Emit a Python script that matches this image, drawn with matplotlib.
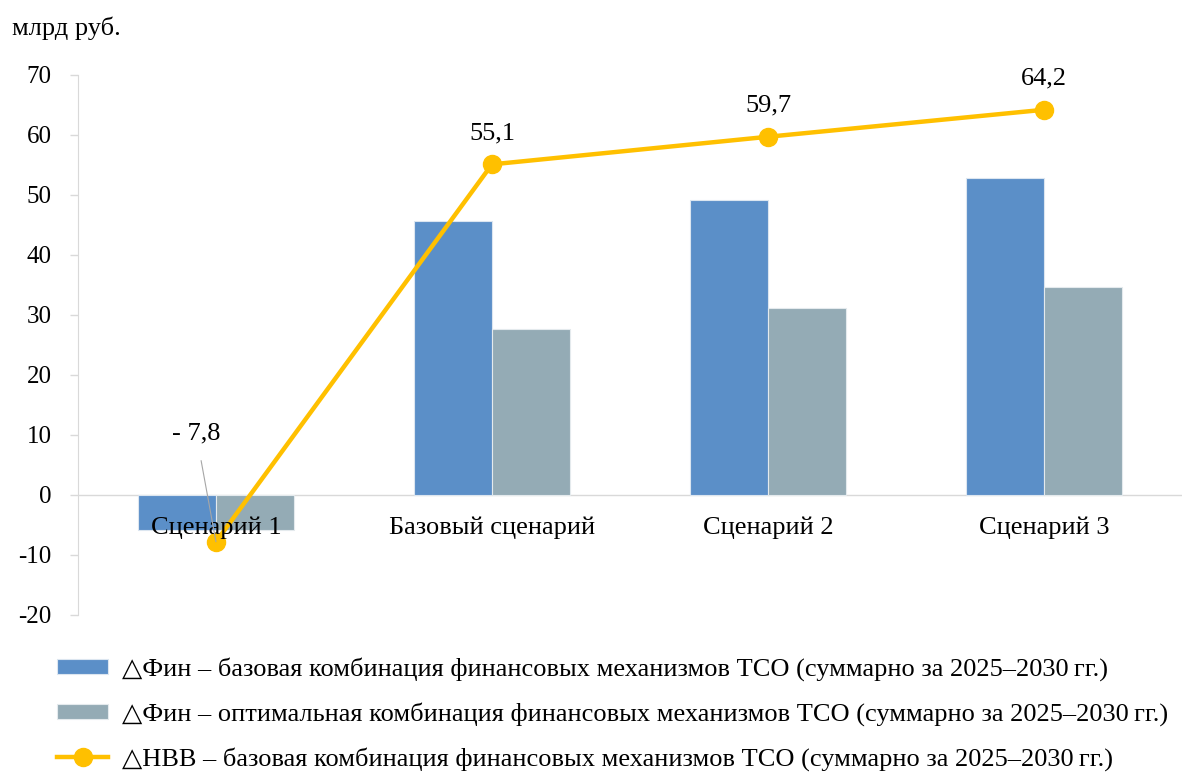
import numpy as np
import matplotlib.pyplot as plt

plt.rcParams['font.family'] = ['Liberation Serif', 'DejaVu Serif']

categories = ['Сценарий 1', 'Базовый сценарий', 'Сценарий 2', 'Сценарий 3']
fin_base = [-5.8, 45.7, 49.2, 52.8]
fin_opt = [-5.8, 27.6, 31.2, 34.7]
nvv_base = [-7.8, 55.1, 59.7, 64.2]

label_fin_base = '\u25b3Фин \u2013 базовая комбинация финансовых механизмов ТСО (суммарно за 2025\u20132030\u2009гг.)'
label_fin_opt = '\u25b3Фин \u2013 оптимальная комбинация финансовых механизмов ТСО (суммарно за 2025\u20132030\u2009гг.)'
label_nvv = '\u25b3НВВ \u2013 базовая комбинация финансовых механизмов ТСО (суммарно за 2025\u20132030\u2009гг.)'

blue = '#5B8FC8'
grey = '#94ABB5'
yellow = '#FFC000'

fig = plt.figure(figsize=(11.92, 7.76), dpi=100)
ax = fig.add_axes([0.0654, 0.2075, 0.9262, 0.6959])

x = np.arange(len(categories))
w = 0.283
b1 = ax.bar(x - w / 2, fin_base, w, color=blue, edgecolor='#DCE6F0', linewidth=0.8, label=label_fin_base, zorder=2)
b2 = ax.bar(x + w / 2, fin_opt, w, color=grey, edgecolor='#E4EAED', linewidth=0.8, label=label_fin_opt, zorder=2)
ln, = ax.plot(x, nvv_base, color=yellow, lw=3.2, marker='o', ms=13, label=label_nvv, zorder=4)

ax.set_xlim(-0.5, len(categories) - 0.5)
ax.set_ylim(-20, 70)
yt = np.arange(-20, 71, 10)
ax.set_yticks(yt)
ax.set_yticklabels([str(v) for v in yt])
ax.set_xticks([])
for s in ['top', 'right', 'bottom']:
    ax.spines[s].set_visible(False)
ax.spines['left'].set_color('#D9D9D9')
ax.tick_params(axis='y', colors='#D9D9D9', labelcolor='black', labelsize=18, length=6, width=1, pad=13)
ax.axhline(0, color='#D9D9D9', lw=1, zorder=1)

# подписи категорий
for i, c in enumerate(categories):
    ax.text(i, -5.5, c, ha='center', va='center', fontsize=19, zorder=5)

# подписи значений
for i, v in enumerate(nvv_base):
    txt = ('- ' + str(abs(v)) if v < 0 else str(v)).replace('.', ',')
    if v < 0:
        ax.annotate(txt, xy=(i, v), xytext=(i - 0.072, 10.3), ha='center', va='center', fontsize=19,
                    arrowprops=dict(arrowstyle='-', color='#A6A6A6', lw=0.8, shrinkA=10, shrinkB=0), zorder=6)
    else:
        ax.annotate(txt, xy=(i, v), xytext=(0, 22.5), textcoords='offset points',
                    ha='center', va='center', fontsize=19)

fig.text(0.01, 0.964, 'млрд руб.', fontsize=19, ha='left', va='center')

fig.legend(handles=[b1, b2, ln], loc='upper left', bbox_to_anchor=(0.039, 0.167), frameon=False,
           fontsize=19, handlelength=1.93, handleheight=0.5, handletextpad=0.52, labelspacing=0.8,
           borderaxespad=0)

fig.savefig('out.png', dpi=100)
